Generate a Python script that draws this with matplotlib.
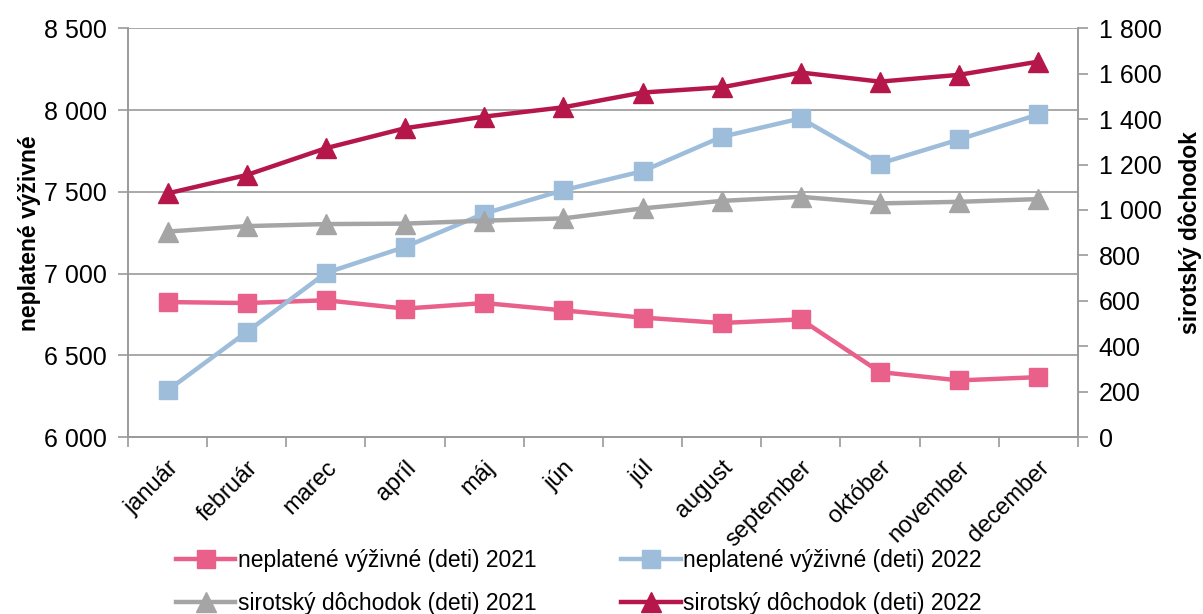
import matplotlib
matplotlib.use("Agg")
import matplotlib.pyplot as plt
from matplotlib.ticker import FuncFormatter, FixedLocator
import numpy as np

months = ["január", "február", "marec", "apríl", "máj", "jún", "júl", "august",
          "september", "október", "november", "december"]
nepl_2021 = [6826, 6820, 6837, 6786, 6820, 6775, 6731, 6698, 6720, 6398, 6347, 6367]
nepl_2022 = [6286, 6643, 7004, 7163, 7367, 7510, 7626, 7836, 7949, 7673, 7820, 7973]
sirot_2021 = [905, 929, 938, 940, 953, 963, 1007, 1040, 1058, 1029, 1036, 1048]
sirot_2022 = [1073, 1154, 1272, 1360, 1411, 1452, 1517, 1540, 1605, 1565, 1595, 1653]

label_n21 = "neplatené výživné (deti) 2021"
label_n22 = "neplatené výživné (deti) 2022"
label_s21 = "sirotský dôchodok (deti) 2021"
label_s22 = "sirotský dôchodok (deti) 2022"

plt.rcParams['font.family'] = ['Liberation Sans', 'DejaVu Sans']

c_pink = "#E9608A"
c_blue = "#9DBDDB"
c_gray = "#A5A5A5"
c_red = "#B5174B"
grid_c = "#9A9A9A"

fig = plt.figure(figsize=(12.03, 6.14), dpi=100)
ax = fig.add_axes([0.1064, 0.288, 0.7896, 0.666])
ax2 = ax.twinx()

x = np.arange(len(months))
lw = 3.2
h1, = ax.plot(x, nepl_2021, color=c_pink, lw=lw, marker='s', ms=13, label=label_n21)
h2, = ax.plot(x, nepl_2022, color=c_blue, lw=lw, marker='s', ms=13, label=label_n22)
h3, = ax2.plot(x, sirot_2021, color=c_gray, lw=lw, marker='^', ms=14, label=label_s21)
h4, = ax2.plot(x, sirot_2022, color=c_red, lw=lw, marker='^', ms=14, label=label_s22)

ax.set_xlim(-0.5, len(months) - 0.5)
ax.set_ylim(6000, 8500)
ax2.set_ylim(0, 1800)
ax.set_yticks(np.arange(6000, 8501, 500))
ax2.set_yticks(np.arange(0, 1801, 200))

fmt = FuncFormatter(lambda v, p: f"{int(v):,}".replace(",", " "))
ax.yaxis.set_major_formatter(fmt)
ax2.yaxis.set_major_formatter(fmt)

ax.yaxis.grid(True, color=grid_c, lw=1.2)
ax.set_axisbelow(True)

for a in (ax, ax2):
    for s in a.spines.values():
        s.set_color(grid_c)
        s.set_linewidth(1.2)
    a.spines['top'].set_visible(False)

ax.set_xticks(x)
ax.set_xticklabels(months, rotation=45, ha='right', rotation_mode='anchor', fontsize=17)
ax.xaxis.set_minor_locator(FixedLocator(np.arange(-0.5, len(months), 1.0)))
ax.tick_params(axis='x', which='major', length=0, pad=14)
ax.tick_params(axis='x', which='minor', length=7, color=grid_c, width=1.2)
ax.tick_params(axis='y', length=7, color=grid_c, width=1.2, labelsize=18, pad=8)
ax2.tick_params(axis='y', length=7, color=grid_c, width=1.2, labelsize=18, pad=8)

ax.set_ylabel("neplatené výživné", fontsize=16.5, fontweight='bold', labelpad=2)
ax2.set_ylabel("sirotský dôchodok", fontsize=16.5, fontweight='bold', labelpad=12)

fig.legend([h1, h3, h2, h4], [label_n21, label_s21, label_n22, label_s22],
           ncol=2, loc='lower center', bbox_to_anchor=(0.481, -0.036), frameon=False,
           fontsize=16.5, columnspacing=3.7, handlelength=2.6, handletextpad=0.1,
           labelspacing=0.9)

fig.savefig("out.png", dpi=100)
